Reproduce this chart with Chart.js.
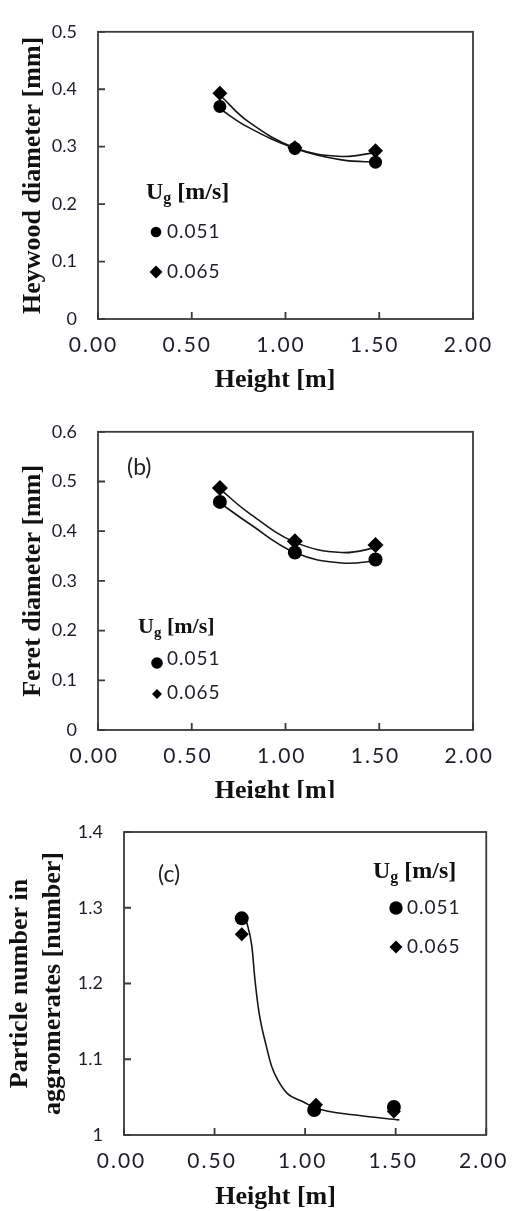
<!DOCTYPE html>
<html>

<head>
    <title>Agglomerate size vs height</title>
    <script src="https://cdn.jsdelivr.net/npm/chart.js"></script>
    <style>
        body { margin: 0; background: #fff; }
        .panel { position: absolute; left: 0; width: 521px; overflow: hidden; }
        canvas { display: block; }
    </style>
</head>

<body>
    <div class="panel" style="top:0;height:400px"><canvas id="chartA" width="521" height="400"></canvas></div>
    <div class="panel" style="top:400px;height:398px"><canvas id="chartB" width="521" height="410"></canvas></div>
    <div class="panel" style="top:798px;height:413px"><canvas id="chartC" width="521" height="413"></canvas></div>

    <script>
        // shared
        const heightTicks = ['0.00', '0.50', '1.00', '1.50', '2.00'];
        const heightTitle = 'Height [m]';
        const ugLabels = ['0.051', '0.065'];
        const legendTitle = ['U', 'g', ' [m/s]'];

        // (a) Heywood diameter
        const heywoodTitle = 'Heywood diameter [mm]';
        const heywoodTicks = ['0', '0.1', '0.2', '0.3', '0.4', '0.5'];
        const heywoodX = [0.65, 1.05, 1.48];
        const heywood051 = [0.370, 0.297, 0.273];
        const heywood065 = [0.393, 0.298, 0.293];
        const heywoodFitX = [0.65, 0.80, 1.05, 1.30, 1.50];
        const heywoodFit051 = [0.366, 0.334, 0.297, 0.277, 0.273];
        const heywoodFit065 = [0.390, 0.344, 0.298, 0.283, 0.291];

        // (b) Feret diameter
        const feretTitle = 'Feret diameter [mm]';
        const feretTag = '(b)';
        const feretTicks = ['0', '0.1', '0.2', '0.3', '0.4', '0.5', '0.6'];
        const feretX = [0.65, 1.05, 1.48];
        const feret051 = [0.459, 0.357, 0.343];
        const feret065 = [0.487, 0.380, 0.372];
        const feretFitX = [0.65, 0.80, 1.05, 1.30, 1.50];
        const feretFit051 = [0.457, 0.417, 0.357, 0.336, 0.341];
        const feretFit065 = [0.485, 0.438, 0.378, 0.357, 0.368];

        // (c) particle number in agglomerates
        const aggTitle = ['Particle number in', 'aggromerates [number]'];
        const aggTag = '(c)';
        const aggTicks = ['1', '1.1', '1.2', '1.3', '1.4'];
        const aggX051 = [0.65, 1.05, 1.49];
        const agg051 = [1.286, 1.033, 1.037];
        const aggX065 = [0.65, 1.06, 1.49];
        const agg065 = [1.265, 1.040, 1.031];
        const aggFitX = [0.67, 0.706, 0.723, 0.746, 0.786, 0.816, 0.848, 0.901, 0.989, 1.052, 1.29, 1.52];
        const aggFit = [1.288, 1.249, 1.205, 1.161, 1.117, 1.090, 1.073, 1.055, 1.044, 1.036, 1.026, 1.020];

        const SERIF = '"Liberation Serif", "Times New Roman", serif';
        const SANS = 'Lato, "Open Sans", sans-serif';
        const INK = '#1e1e2a';

        function points(xs, ys) {
            return xs.map((x, i) => ({ x: x, y: ys[i] }));
        }

        function markerSet(label, xs, ys, style, radius) {
            return {
                label: label,
                data: points(xs, ys),
                pointStyle: style,
                pointRadius: radius,
                pointBackgroundColor: '#000',
                pointBorderWidth: 0,
                showLine: false
            };
        }

        function fitLine(xs, ys, mode) {
            return {
                type: 'line',
                label: 'fit',
                data: points(xs, ys),
                showLine: true,
                borderColor: '#161616',
                borderWidth: 1.6,
                pointRadius: 0,
                fill: false,
                tension: 0.4,
                cubicInterpolationMode: mode || 'default'
            };
        }

        function drawMarker(ctx, style, x, y, r) {
            ctx.beginPath();
            if (style === 'circle') {
                ctx.arc(x, y, r, 0, Math.PI * 2);
            } else {
                ctx.moveTo(x - r, y);
                ctx.lineTo(x, y - r);
                ctx.lineTo(x + r, y);
                ctx.lineTo(x, y + r);
                ctx.closePath();
            }
            ctx.fill();
        }

        // frame, inner ticks, spaced x labels, legend and panel tag
        const panelDecor = {
            id: 'panelDecor',
            beforeDraw(chart, args, opts) {
                const xs = chart.scales.x;
                if (xs._decorated) return;
                const drawLabels = xs.drawLabels;
                const drawTitle = xs.drawTitle;
                xs.drawLabels = function (area) {
                    chart.ctx.save();
                    chart.ctx.letterSpacing = '2px';
                    drawLabels.call(this, area);
                    chart.ctx.restore();
                };
                xs.drawTitle = function () {
                    chart.ctx.save();
                    chart.ctx.translate(opts.titleShift || 0, 0);
                    drawTitle.call(this);
                    chart.ctx.restore();
                };
                xs._decorated = true;
            },
            beforeDatasetsDraw(chart) {
                const { ctx, chartArea: a, scales: { x, y } } = chart;
                ctx.save();
                ctx.strokeStyle = '#3a3a3a';
                ctx.lineWidth = 1.8;
                ctx.strokeRect(a.left, a.top, a.right - a.left, a.bottom - a.top);
                ctx.beginPath();
                x.ticks.forEach(t => {
                    const px = x.getPixelForValue(t.value);
                    ctx.moveTo(px, a.bottom);
                    ctx.lineTo(px, a.bottom - 7);
                });
                y.ticks.forEach(t => {
                    const py = y.getPixelForValue(t.value);
                    ctx.moveTo(a.left, py);
                    ctx.lineTo(a.left + 7, py);
                });
                ctx.stroke();
                ctx.restore();
            },
            afterDraw(chart, args, opts) {
                const ctx = chart.ctx;
                const lg = opts.legend;
                ctx.save();
                ctx.fillStyle = '#111';
                ctx.textAlign = 'left';
                ctx.textBaseline = 'alphabetic';

                // legend title with subscript
                let cx = lg.titleX;
                ctx.font = `bold ${lg.titleSize}px ${SERIF}`;
                ctx.fillText(legendTitle[0], cx, lg.titleY);
                cx += ctx.measureText(legendTitle[0]).width;
                ctx.font = `bold ${Math.round(lg.titleSize * 0.66)}px ${SERIF}`;
                ctx.fillText(legendTitle[1], cx, lg.titleY + 4);
                cx += ctx.measureText(legendTitle[1]).width;
                ctx.font = `bold ${lg.titleSize}px ${SERIF}`;
                ctx.fillText(legendTitle[2], cx, lg.titleY);

                // legend entries from the marker datasets
                ctx.font = `19px ${SANS}`;
                ctx.textBaseline = 'middle';
                ctx.letterSpacing = '1px';
                chart.data.datasets.slice(0, 2).forEach((ds, i) => {
                    ctx.fillStyle = '#000';
                    drawMarker(ctx, ds.pointStyle, lg.markerX, lg.rows[i], lg.radii[i]);
                    ctx.fillStyle = INK;
                    ctx.fillText(ds.label, lg.textX, lg.rows[i] + (lg.textDy ? lg.textDy[i] : 0));
                });
                ctx.letterSpacing = '0px';

                if (opts.tag) {
                    ctx.font = `23px ${SANS}`;
                    ctx.fillStyle = '#222';
                    ctx.fillText(opts.tag.text, opts.tag.x, opts.tag.y);
                }
                ctx.restore();
            }
        };

        function buildChart(id, spec) {
            return new Chart(document.getElementById(id), {
                type: 'scatter',
                data: { datasets: spec.datasets },
                options: {
                    responsive: false,
                    animation: false,
                    events: [],
                    layout: { autoPadding: false, padding: spec.padding },
                    plugins: {
                        legend: { display: false },
                        tooltip: { enabled: false },
                        panelDecor: spec.decor
                    },
                    scales: {
                        x: {
                            type: 'linear',
                            min: 0,
                            max: 2,
                            grid: { display: false, drawTicks: false },
                            border: { display: false },
                            afterFit: s => { s.height = spec.xHeight; },
                            ticks: {
                                stepSize: 0.5,
                                padding: 14,
                                labelOffset: spec.labelOffset,
                                color: INK,
                                font: { family: SANS, size: 21 },
                                callback: (v, i) => heightTicks[i]
                            },
                            title: {
                                display: true,
                                text: heightTitle,
                                color: '#111',
                                padding: { top: 0, bottom: spec.xTitlePad },
                                font: { family: SERIF, size: 26, weight: 'bold', lineHeight: 1 }
                            }
                        },
                        y: {
                            min: spec.yMin,
                            max: spec.yMax,
                            grid: { display: false, drawTicks: false },
                            border: { display: false },
                            afterFit: s => { s.width = spec.yWidth; },
                            ticks: {
                                stepSize: 0.1,
                                padding: 21,
                                color: INK,
                                font: { family: SANS, size: 18 },
                                callback: (v, i) => spec.yTicks[i]
                            },
                            title: {
                                display: true,
                                text: spec.yTitle,
                                color: '#111',
                                padding: { top: spec.yTitlePad, bottom: 0 },
                                font: { family: SERIF, size: 26, weight: 'bold', lineHeight: spec.yTitleLine }
                            }
                        }
                    }
                },
                plugins: [panelDecor]
            });
        }

        buildChart('chartA', {
            datasets: [
                markerSet(ugLabels[0], heywoodX, heywood051, 'circle', 6.5),
                markerSet(ugLabels[1], heywoodX, heywood065, 'rectRot', 7.5),
                fitLine(heywoodFitX, heywoodFit051),
                fitLine(heywoodFitX, heywoodFit065)
            ],
            padding: { top: 15, right: 48, bottom: 0, left: 0 },
            xHeight: 81, yWidth: 98, labelOffset: -4.5, xTitlePad: 7,
            yMin: 0, yMax: 0.5, yTicks: heywoodTicks,
            yTitle: heywoodTitle, yTitlePad: 20, yTitleLine: 1,
            decor: {
                titleShift: -10.5,
                legend: { titleX: 146, titleY: 199, titleSize: 24, markerX: 156, textX: 167, rows: [232, 272], radii: [5.3, 6.5] }
            }
        });

        buildChart('chartB', {
            datasets: [
                markerSet(ugLabels[0], feretX, feret051, 'circle', 7),
                markerSet(ugLabels[1], feretX, feret065, 'rectRot', 8),
                fitLine(feretFitX, feretFit051),
                fitLine(feretFitX, feretFit065)
            ],
            padding: { top: 26, right: 48, bottom: 0, left: 0 },
            xHeight: 80, yWidth: 98, labelOffset: -3.7, xTitlePad: 6,
            yMin: 0, yMax: 0.6, yTicks: feretTicks,
            yTitle: feretTitle, yTitlePad: 20, yTitleLine: 1,
            decor: {
                titleShift: -10.5,
                tag: { text: feretTag, x: 127, y: 68 },
                legend: { titleX: 138, titleY: 233, titleSize: 22, markerX: 157, textX: 167, rows: [263, 294], radii: [5.8, 5], textDy: [-4, -1] }
            }
        });

        buildChart('chartC', {
            datasets: [
                markerSet(ugLabels[0], aggX051, agg051, 'circle', 7),
                markerSet(ugLabels[1], aggX065, agg065, 'rectRot', 7),
                fitLine(aggFitX, aggFit, 'monotone')
            ],
            padding: { top: 34, right: 21, bottom: 0, left: 0 },
            xHeight: 76, yWidth: 124, labelOffset: -2.5, xTitlePad: 1,
            yMin: 1, yMax: 1.4, yTicks: aggTicks,
            yTitle: aggTitle, yTitlePad: 3, yTitleLine: 1.3,
            decor: {
                titleShift: -29.5,
                tag: { text: aggTag, x: 158, y: 77 },
                legend: { titleX: 373, titleY: 80, titleSize: 24, markerX: 396, textX: 407, rows: [110, 149], radii: [6.7, 6.5] }
            }
        });
    </script>
</body>

</html>
